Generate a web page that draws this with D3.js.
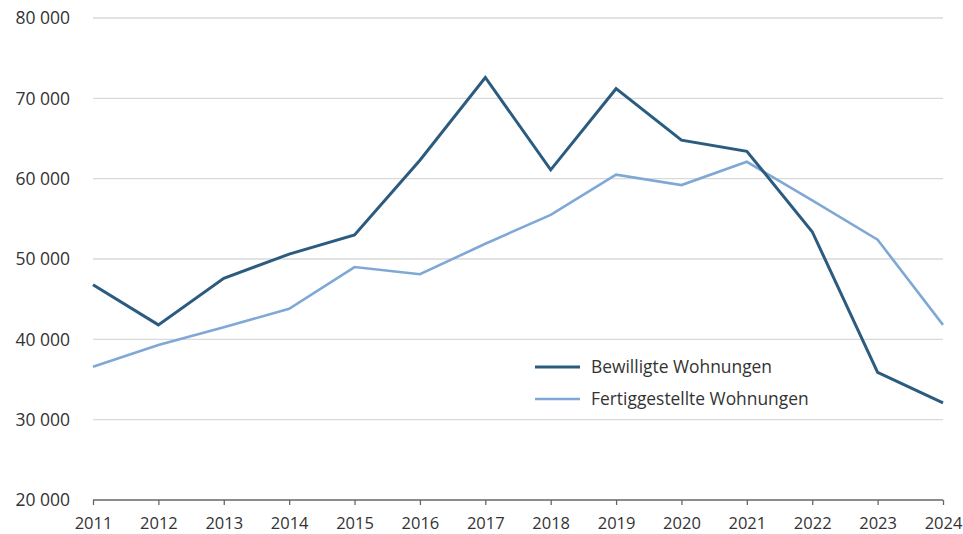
<!DOCTYPE html>
<html>
<head>
  <meta charset="utf-8">
  <script src="https://d3js.org/d3.v7.min.js"></script>
  <style>
    body { margin: 0; background: #fff; }
    text { font-family: "Open Sans", "Noto Sans", sans-serif; fill: #333; }
  </style>
</head>
<body>
  <script>
    // data
    var years = [2011, 2012, 2013, 2014, 2015, 2016, 2017, 2018, 2019, 2020, 2021, 2022, 2023, 2024];
    var bewilligt = [46800, 41800, 47600, 50600, 53000, 62300, 72600, 61100, 71200, 64800, 63400, 53400, 35900, 32100];
    var fertig = [36600, 39300, 41500, 43800, 49000, 48100, 51900, 55500, 60500, 59200, 62100, 57300, 52400, 41800];
    var seriesNames = ["Bewilligte Wohnungen", "Fertiggestellte Wohnungen"];
    var colors = ["#2c5b80", "#80a8d6"];
    var yTicks = [20000, 30000, 40000, 50000, 60000, 70000, 80000];

    var width = 963, height = 534;
    var plotL = 93, plotR = 943, plotT = 18, plotB = 500;

    var svg = d3.select("body").append("svg")
      .attr("width", width)
      .attr("height", height);

    var x = d3.scaleLinear().domain([2011, 2024]).range([plotL, plotR]);
    var y = d3.scaleLinear().domain([20000, 80000]).range([plotB, plotT]);

    // gridlines
    svg.selectAll(".grid")
      .data(yTicks.slice(1))
      .enter().append("line")
      .attr("x1", plotL).attr("x2", plotR)
      .attr("y1", function(d) { return y(d); })
      .attr("y2", function(d) { return y(d); })
      .attr("stroke", "#d9d9d9")
      .attr("stroke-width", 1.3);

    // y labels
    svg.selectAll(".ylab")
      .data(yTicks)
      .enter().append("text")
      .attr("x", 70)
      .attr("y", function(d) { return y(d); })
      .attr("dy", "0.36em")
      .attr("text-anchor", "end")
      .style("font-size", "17.5px")
      .text(function(d) { return d3.format(",")(d).replace(",", " "); });

    // x axis
    var xAxis = d3.axisBottom(x)
      .tickValues(years)
      .tickFormat(d3.format("d"))
      .tickSize(5)
      .tickPadding(12);
    var gx = svg.append("g")
      .attr("transform", "translate(0," + plotB + ")")
      .call(xAxis);
    gx.select(".domain").attr("stroke", "#666").attr("stroke-width", 1.5)
      .attr("d", "M" + plotL + ",0H" + plotR);
    gx.selectAll(".tick line").attr("stroke", "#666").attr("stroke-width", 1.3);
    gx.selectAll(".tick text")
      .style("font-family", "'Open Sans', 'Noto Sans', sans-serif")
      .style("font-size", "16.5px")
      .attr("fill", "#333");

    var line = d3.line()
      .x(function(d, i) { return x(years[i]); })
      .y(function(d) { return y(d); });

    [fertig, bewilligt].forEach(function(s, k) {
      var idx = k === 0 ? 1 : 0;
      svg.append("path")
        .datum(s)
        .attr("d", line)
        .attr("fill", "none")
        .attr("stroke", colors[idx])
        .attr("stroke-width", idx === 0 ? 3 : 2.6)
        .attr("stroke-linejoin", "miter");
    });

    // legend
    var legend = svg.append("g").attr("transform", "translate(535,367)");
    seriesNames.forEach(function(name, i) {
      var g = legend.append("g").attr("transform", "translate(0," + (i * 32) + ")");
      g.append("line")
        .attr("x1", 0).attr("x2", 45)
        .attr("stroke", colors[i])
        .attr("stroke-width", i === 0 ? 3 : 2.6);
      g.append("text")
        .attr("x", 56)
        .attr("dy", "0.36em")
        .style("font-size", "17.4px")
        .text(name);
    });
  </script>
</body>
</html>
